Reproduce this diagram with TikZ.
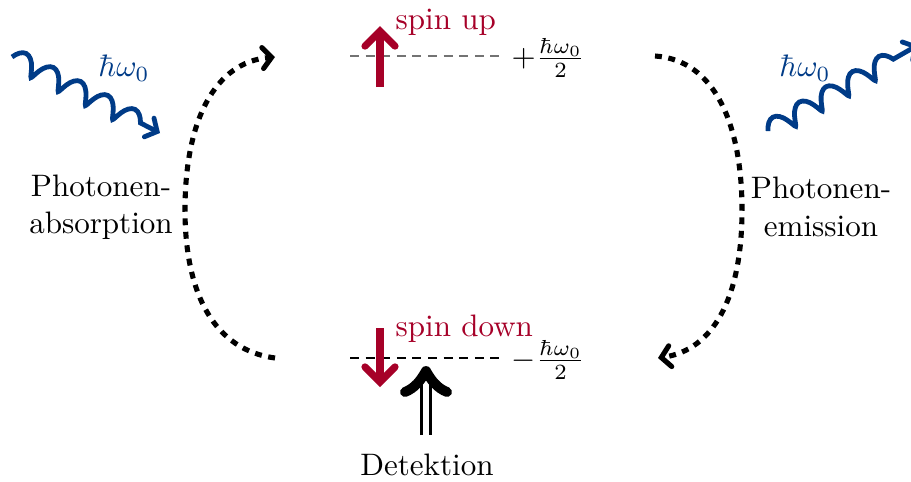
\documentclass[tikz,border=0pt]{standalone}
\usetikzlibrary{arrows.meta,decorations.pathmorphing}
\definecolor{spinred}{RGB}{166,0,40}
\definecolor{photonblue}{RGB}{0,59,135}
\tikzset{
  every node/.style={scale=1.035},
  level/.style={line width=0.5pt, dash pattern=on 3pt off 2.2pt},
  spinarrow/.style={spinred, line width=2.4pt, -{Straight Barb[length=5pt,width=10pt,line cap=round]}},
  cycle/.style={line width=1.7pt, dash pattern=on 2.3pt off 2.2pt, -{Straight Barb[length=3pt,width=7pt,line cap=round]}},
  photon/.style={photonblue, line width=1.6pt, decorate,
    decoration={coil, aspect=0.35, amplitude=3.2pt, segment length=10.2pt, post length=3pt}},
  photontip/.style={-{Straight Barb[length=3pt,width=7pt,line cap=round]}},
  redtext/.style={text=spinred, inner sep=0pt},
  bluetext/.style={text=photonblue, inner sep=0pt},
  energy/.style={anchor=west, inner sep=0pt}
}
\begin{document}
\begin{tikzpicture}[x=0.3333pt,y=-0.3333pt]
  \useasboundingbox (0,0) rectangle (911,481);
  \clip (0,0) rectangle (911,481);

  % energy levels
  \coordinate (upL) at (350,56);
  \coordinate (upR) at (505,56);
  \coordinate (dnL) at (350,358);
  \coordinate (dnR) at (505,358);
  \draw[level, black!55] (upL) -- (upR);
  \draw[level] (dnL) -- (dnR);
  \node[energy] (eup) at (511,58) {$+\frac{\hbar\omega_0}{2}$};
  \node[energy] (edn) at (511,360) {$-\frac{\hbar\omega_0}{2}$};

  % spin states
  \coordinate (su0) at (380,87);
  \coordinate (su1) at (380,26);
  \draw[spinarrow] (su0) -- (su1);
  \node[redtext, anchor=base west] (spinup) at (395,29) {spin up};
  \coordinate (sd0) at (380,328);
  \coordinate (sd1) at (380,387);
  \draw[spinarrow] (sd0) -- (sd1);
  \node[redtext, anchor=base west] (spindown) at (395,336) {spin down};

  % detection
  \node[inner sep=0pt, anchor=base] (det) at (427,475) {Detektion};
  \coordinate (det0) at (426,435);
  \coordinate (det1) at (426,380);
  \draw[double, double distance=1.8pt, line width=1pt] (det0) -- (det1);
  \draw[line width=3.3pt, line cap=round, line join=round]
    (405,392) .. controls (415,388) and (421,380) .. (426,371)
              .. controls (431,380) and (437,388) .. (447,392);

  % absorption / emission cycle
  \coordinate (a0) at (275,358);
  \coordinate (a1) at (275,57);
  \coordinate (e0) at (655,56);
  \coordinate (e1) at (658,358);
  \draw[cycle] (a0) .. controls (215,350) and (185,295) .. (185,210)
                    .. controls (185,120) and (215,62) .. (a1);
  \draw[cycle] (e0) .. controls (715,60) and (742,125) .. (742,210)
                    .. controls (742,300) and (712,350) .. (e1);
  \node[align=center, inner sep=0pt] (abs) at (101,207) {Photonen-\\absorption};
  \node[align=center, inner sep=0pt] (emi) at (821,207) {Photonen-\\emission};

  % photons
  \coordinate (p0) at (12,57);
  \coordinate (p1) at (160,133);
  \draw[photon, photontip] (p0) -- (p1);
  \node[bluetext] (hw1) at (124,68) {$\hbar\omega_0$};
  \coordinate (q0) at (768,131);
  \coordinate (q1) at (918,45);
  \draw[photon, photontip] (q0) -- (q1);
  \node[bluetext] (hw2) at (805,68) {$\hbar\omega_0$};
\end{tikzpicture}
\end{document}
